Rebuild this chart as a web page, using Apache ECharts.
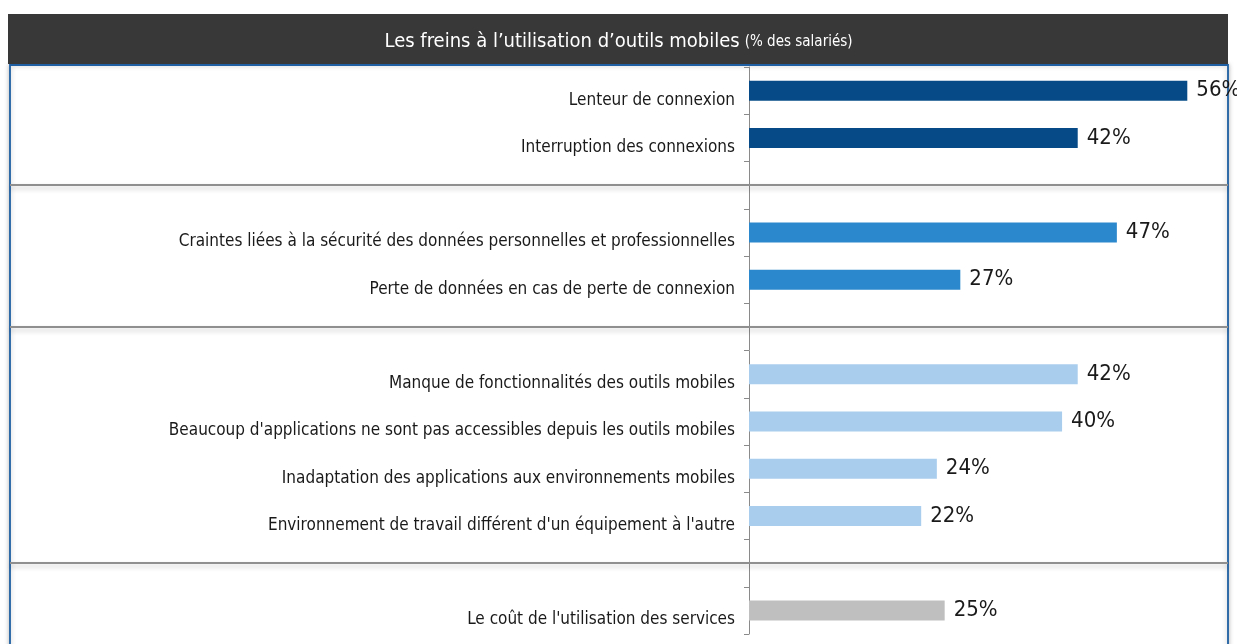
<!DOCTYPE html>
<html>
<head>
<meta charset="utf-8">
<script src="https://cdn.jsdelivr.net/npm/echarts@6/dist/echarts.min.js"></script>
<style>
    html, body {
        margin: 0;
        padding: 0;
        background: #fff;
    }
    #chart {
        width: 1237px;
        height: 644px;
    }
</style>
</head>
<body>
<div id="chart"></div>
<script>
// catégories (les lignes vides séparent les groupes)
var categories = [
    'Lenteur de connexion',
    'Interruption des connexions',
    '',
    'Craintes liées à la sécurité des données personnelles et professionnelles',
    'Perte de données en cas de perte de connexion',
    '',
    'Manque de fonctionnalités des outils mobiles',
    'Beaucoup d\'applications ne sont pas accessibles depuis les outils mobiles',
    'Inadaptation des applications aux environnements mobiles',
    'Environnement de travail différent d\'un équipement à l\'autre',
    '',
    'Le coût de l\'utilisation des services'
]
var values = [56, 42, null, 47, 27, null, 42, 40, 24, 22, null, 25]
var groupOf = [0, 0, null, 1, 1, null, 2, 2, 2, 2, null, 3]
var separatorRows = [2, 5, 10]

var groupColors = ['#064B87', '#2C88CC', '#A8CDED', '#BFBFBF']
var narrow = "'Liberation Sans Narrow', 'DejaVu Sans Condensed', sans-serif"

var barData = values.map(function (v, i) {
    if (v === null) return '-'
    return { value: v, itemStyle: { color: groupColors[groupOf[i]] } }
})

var chart = echarts.init(document.getElementById('chart'))
var option = {
    animation: false,
    title: {
        text: '{a|Les freins à l’utilisation d’outils mobiles} {b|(% des salariés)}',
        left: 'center',
        top: 27,
        textStyle: {
            rich: {
                a: { color: '#fff', fontSize: 20, fontWeight: 'normal', fontFamily: narrow },
                b: { color: '#fff', fontSize: 15, fontWeight: 'normal', fontFamily: narrow }
            }
        }
    },
    graphic: [
        {
            type: 'rect',
            z: -2,
            shape: { x: 10, y: 65, width: 1218, height: 600 },
            style: {
                fill: '#fff',
                stroke: '#1F5FA2',
                lineWidth: 1.8,
                shadowBlur: 5,
                shadowColor: 'rgba(0,0,0,0.25)'
            }
        },
        {
            type: 'rect',
            z: -1,
            shape: { x: 8, y: 14, width: 1220, height: 50 },
            style: { fill: '#383838' }
        }
    ],
    grid: [
        // barres
        { left: 749, right: 9, top: 67, bottom: 10, outerBoundsMode: 'none' },
        // lignes de séparation sur toute la largeur
        { left: 10, right: 9, top: 67, bottom: 10, outerBoundsMode: 'none' }
    ],
    xAxis: [
        { type: 'value', gridIndex: 0, min: 0, max: 61.2, show: false },
        { type: 'value', gridIndex: 1, min: 0, max: 1, show: false }
    ],
    yAxis: [
        {
            type: 'category',
            gridIndex: 0,
            inverse: true,
            data: categories,
            axisLine: {
                show: true,
                lineStyle: { color: '#8A8A8A', width: 1 }
            },
            axisTick: {
                show: true,
                interval: 0,
                length: 5,
                lineStyle: { color: '#8A8A8A', width: 1 }
            },
            axisLabel: {
                interval: 0,
                margin: 14,
                color: '#1a1a1a',
                fontSize: 17,
                fontFamily: narrow,
                verticalAlign: 'top',
                padding: [1, 0, 0, 0]
            }
        },
        {
            type: 'category',
            gridIndex: 1,
            inverse: true,
            data: categories,
            show: false
        }
    ],
    series: [
        {
            type: 'bar',
            xAxisIndex: 0,
            yAxisIndex: 0,
            data: barData,
            barWidth: 20,
            label: {
                show: true,
                position: 'right',
                distance: 9,
                formatter: '{c}%',
                color: '#1a1a1a',
                fontSize: 22,
                fontFamily: narrow
            }
        },
        {
            type: 'bar',
            xAxisIndex: 1,
            yAxisIndex: 1,
            data: [],
            markLine: {
                silent: true,
                symbol: 'none',
                label: { show: false },
                lineStyle: {
                    color: '#8F8F8F',
                    width: 2,
                    type: 'solid',
                    shadowColor: 'rgba(0,0,0,0.22)',
                    shadowBlur: 5,
                    shadowOffsetY: 3
                },
                data: separatorRows.map(function (r) { return { yAxis: r } })
            }
        }
    ]
}
chart.setOption(option)
</script>
</body>
</html>
